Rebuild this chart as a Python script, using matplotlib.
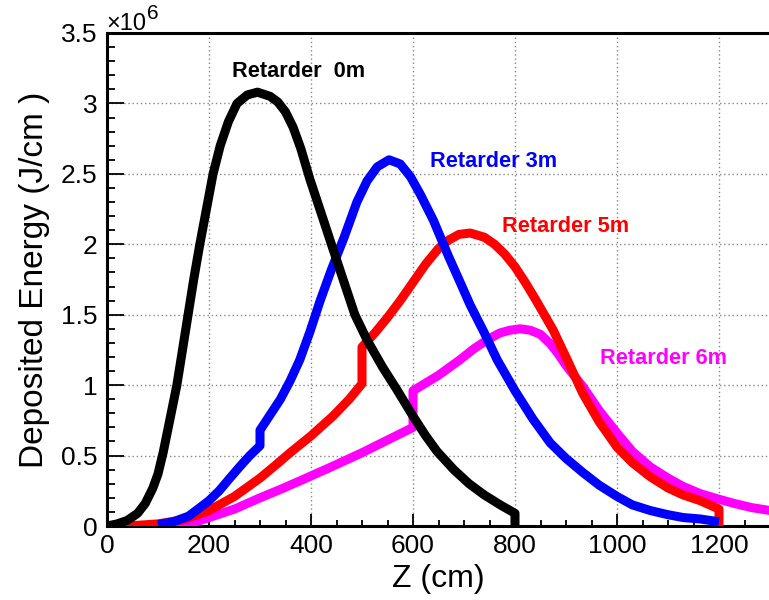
import matplotlib
matplotlib.use('Agg')
import matplotlib.pyplot as plt
from matplotlib.ticker import MultipleLocator, FuncFormatter

plt.rcParams['font.family'] = ['Liberation Sans', 'DejaVu Sans']

# Z (cm) and deposited energy (units of 1e6 J/cm)
z_0m = [0, 20, 40, 60, 75, 90, 100, 110, 123, 137, 148, 159, 170, 182, 195,
        208, 222, 238, 255, 275, 295, 320, 335, 350, 365, 380, 398, 420, 440,
        463, 486, 510, 540, 568, 600, 625, 647, 680, 710, 740, 771, 800, 800]
e_0m = [0, 0.015, 0.04, 0.09, 0.16, 0.27, 0.37, 0.52, 0.75, 1.0, 1.25, 1.5,
        1.75, 2.0, 2.25, 2.5, 2.7, 2.87, 3.0, 3.06, 3.08, 3.05, 3.01, 2.94,
        2.83, 2.68, 2.46, 2.22, 2.0, 1.75, 1.5, 1.32, 1.13, 0.97, 0.78, 0.64,
        0.53, 0.4, 0.3, 0.22, 0.15, 0.09, 0]

z_3m = [100, 130, 160, 182, 200, 220, 241, 260, 280, 300, 300, 320, 340, 359,
        378, 398, 418, 440, 465, 490, 510, 530, 553, 575, 595, 615, 640, 669,
        690, 712, 740, 765, 800, 835, 869, 900, 933, 965, 1000, 1030, 1065,
        1100, 1130, 1163, 1200]
e_3m = [0.01, 0.03, 0.07, 0.13, 0.18, 0.25, 0.34, 0.42, 0.5, 0.57, 0.68, 0.79,
        0.9, 1.03, 1.18, 1.38, 1.6, 1.82, 2.05, 2.3, 2.45, 2.55, 2.6, 2.57,
        2.48, 2.35, 2.17, 1.92, 1.75, 1.57, 1.37, 1.18, 0.96, 0.76, 0.59, 0.48,
        0.38, 0.29, 0.21, 0.15, 0.11, 0.08, 0.06, 0.05, 0.03]

z_5m = [20, 60, 100, 150, 200, 250, 300, 330, 359, 400, 443, 475, 500, 500,
        525, 550, 575, 600, 625, 650, 670, 690, 712, 740, 760, 780, 800, 820,
        840, 875, 905, 933, 965, 1000, 1030, 1065, 1100, 1130, 1163, 1200,
        1200]
e_5m = [0, 0.005, 0.015, 0.045, 0.11, 0.21, 0.34, 0.43, 0.52, 0.64, 0.78, 0.9,
        1.01, 1.27, 1.37, 1.48, 1.6, 1.73, 1.86, 1.97, 2.03, 2.07, 2.08, 2.05,
        2.0, 1.93, 1.84, 1.73, 1.61, 1.39, 1.16, 0.94, 0.74, 0.56, 0.45, 0.35,
        0.27, 0.22, 0.18, 0.12, 0]

z_6m = [20, 150, 175, 200, 250, 300, 340, 378, 440, 500, 550, 600, 600, 650,
        692, 720, 745, 770, 790, 810, 830, 850, 870, 885, 900, 933, 965, 1000,
        1030, 1065, 1100, 1130, 1163, 1200, 1230, 1265, 1300]
e_6m = [0, 0.0, 0.03, 0.06, 0.12, 0.2, 0.26, 0.32, 0.42, 0.52, 0.61, 0.70,
        0.96, 1.07, 1.18, 1.26, 1.32, 1.37, 1.39, 1.40, 1.39, 1.36, 1.29, 1.22,
        1.14, 0.99, 0.82, 0.66, 0.53, 0.42, 0.34, 0.28, 0.23, 0.19, 0.16, 0.13,
        0.11]

fig = plt.figure(figsize=(7.69, 6.0), dpi=100)
ax = fig.add_axes([107 / 769, 74 / 600, 663 / 769, 493 / 600])

line_kw = dict(lw=6.5, solid_joinstyle='round', solid_capstyle='butt')
ax.plot(z_6m, e_6m, color='#ff00ff', zorder=3, **line_kw)
ax.plot(z_5m, e_5m, color='#ff0000', zorder=4, **line_kw)
ax.plot(z_3m, e_3m, color='#0000ff', zorder=5, **line_kw)
ax.plot(z_0m, e_0m, color='black', zorder=6, **line_kw)

# curve labels
ax.text(245, 3.19, 'Retarder  0m', color='black', fontsize=15.7, fontweight='bold')
ax.text(633, 2.55, 'Retarder 3m', color='#0000ff', fontsize=15.7, fontweight='bold')
ax.text(775, 2.087, 'Retarder 5m', color='#ff0000', fontsize=15.7, fontweight='bold')
ax.text(967, 1.15, 'Retarder 6m', color='#ff00ff', fontsize=15.7, fontweight='bold')

ax.set_xlim(0, 1300)
ax.set_ylim(0, 3.5)
ax.xaxis.set_major_locator(MultipleLocator(200))
ax.xaxis.set_minor_locator(MultipleLocator(50))
ax.yaxis.set_major_locator(MultipleLocator(0.5))
ax.yaxis.set_minor_locator(MultipleLocator(0.1))
ax.yaxis.set_major_formatter(FuncFormatter(lambda v, p: '%g' % v))

ax.tick_params(axis='both', which='both', direction='in', width=1.3, labelsize=19)
ax.tick_params(axis='x', which='major', length=8.6, pad=6)
ax.tick_params(axis='x', which='minor', length=4.3)
ax.tick_params(axis='y', which='major', length=12, pad=7)
ax.tick_params(axis='y', which='minor', length=6)

ax.grid(True, which='major', color='#888888', linestyle=(0, (1, 2)), linewidth=1)
ax.set_axisbelow(True)

for s in ['left', 'bottom', 'top']:
    ax.spines[s].set_linewidth(2.2)
ax.spines['right'].set_visible(False)

ax.set_xlabel('Z (cm)', fontsize=23, labelpad=4)
ax.set_ylabel('Deposited Energy (J/cm )', fontsize=24, labelpad=8)

fig.text(106 / 769, 1 - 30 / 600, '\u00d710', fontsize=17, ha='left', va='baseline')
fig.text(147 / 769, 1 - 19 / 600, '6', fontsize=15, ha='left', va='baseline')

fig.savefig('out.png', dpi=100)
